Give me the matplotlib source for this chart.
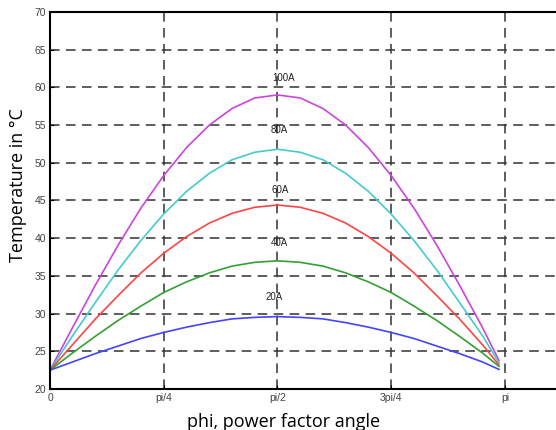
import matplotlib
matplotlib.use("Agg")
import matplotlib.pyplot as plt
import numpy as np

# angle samples (rad) and temperatures
phi = [0.000, 0.157, 0.314, 0.471, 0.628, 0.785, 0.942, 1.100, 1.257, 1.414, 1.571,
       1.728, 1.885, 2.042, 2.199, 2.356, 2.513, 2.670, 2.827, 2.985, 3.100]
t100 = [22.5, 28.2, 33.8, 39.1, 44.0, 48.3, 52.0, 55.0, 57.2, 58.6, 59.0,
        58.6, 57.2, 55.0, 52.0, 48.3, 44.0, 39.1, 33.8, 28.2, 23.8]
t80 = [22.5, 27.1, 31.5, 35.8, 39.7, 43.2, 46.2, 48.6, 50.4, 51.4, 51.8,
       51.4, 50.4, 48.6, 46.2, 43.2, 39.7, 35.8, 31.5, 27.1, 23.5]
t60 = [22.5, 25.9, 29.3, 32.4, 35.4, 38.0, 40.2, 42.0, 43.3, 44.1, 44.4,
       44.1, 43.3, 42.0, 40.2, 38.0, 35.4, 32.4, 29.3, 25.9, 23.2]
t40 = [22.5, 24.8, 27.0, 29.1, 31.0, 32.8, 34.2, 35.4, 36.3, 36.8, 37.0,
       36.8, 36.3, 35.4, 34.2, 32.8, 31.0, 29.1, 27.0, 24.8, 23.0]
t20 = [22.5, 23.6, 24.7, 25.7, 26.7, 27.5, 28.2, 28.8, 29.3, 29.5, 29.6,
       29.5, 29.3, 28.8, 28.2, 27.5, 26.7, 25.7, 24.7, 23.6, 22.6]

series = [t100, t80, t60, t40, t20]
colors = ['#cc44dd', '#44cccc', '#ff4444', '#33a033', '#4444ff']
labels = ['100A', '80A', '60A', '40A', '20A']
label_x = [1.616, 1.581, 1.590, 1.581, 1.547]
label_y = [61.2, 54.4, 46.4, 39.4, 32.2]

xticks = [0, np.pi/4, np.pi/2, 3*np.pi/4, np.pi]
xticklabels = ['0', 'pi/4', 'pi/2', '3pi/4', 'pi']
yticks = [20, 25, 30, 35, 40, 45, 50, 55, 60, 65, 70]

fig = plt.figure(figsize=(5.56, 4.30), dpi=100)
ax = fig.add_axes([50/556, 41/430, 1 - 50/556, 377/430])

for t, c in zip(series, colors):
    ax.plot(phi, t, color=c, lw=1.2)

for lab, x, y in zip(labels, label_x, label_y):
    ax.text(x, y, lab, fontsize=7, ha='center', va='center', color='#222222',
            family='Liberation Sans')

ax.set_xlim(0, 3.494)
ax.set_ylim(20, 70)
ax.set_xticks(xticks)
ax.set_xticklabels(xticklabels)
ax.set_yticks(yticks)
ax.tick_params(direction='in', length=3, labelsize=7.5, labelcolor='#444444', pad=3)
for lbl in ax.get_xticklabels() + ax.get_yticklabels():
    lbl.set_family('Liberation Sans')

ax.grid(True, color='#3a3a3a', linestyle=(0, (6, 4)), lw=1.15)
ax.spines['right'].set_visible(False)
for s in ['left', 'bottom', 'top']:
    ax.spines[s].set_linewidth(1.5)

fig.text(18/556, 1 - 185/430, 'Temperature in °C', rotation=90, ha='center', va='center',
         fontsize=13, family='Open Sans')
fig.text(284/556, 1 - 422/430, 'phi, power factor angle', ha='center', va='center',
         fontsize=13, family='Open Sans')

fig.savefig('out.png', dpi=100)
